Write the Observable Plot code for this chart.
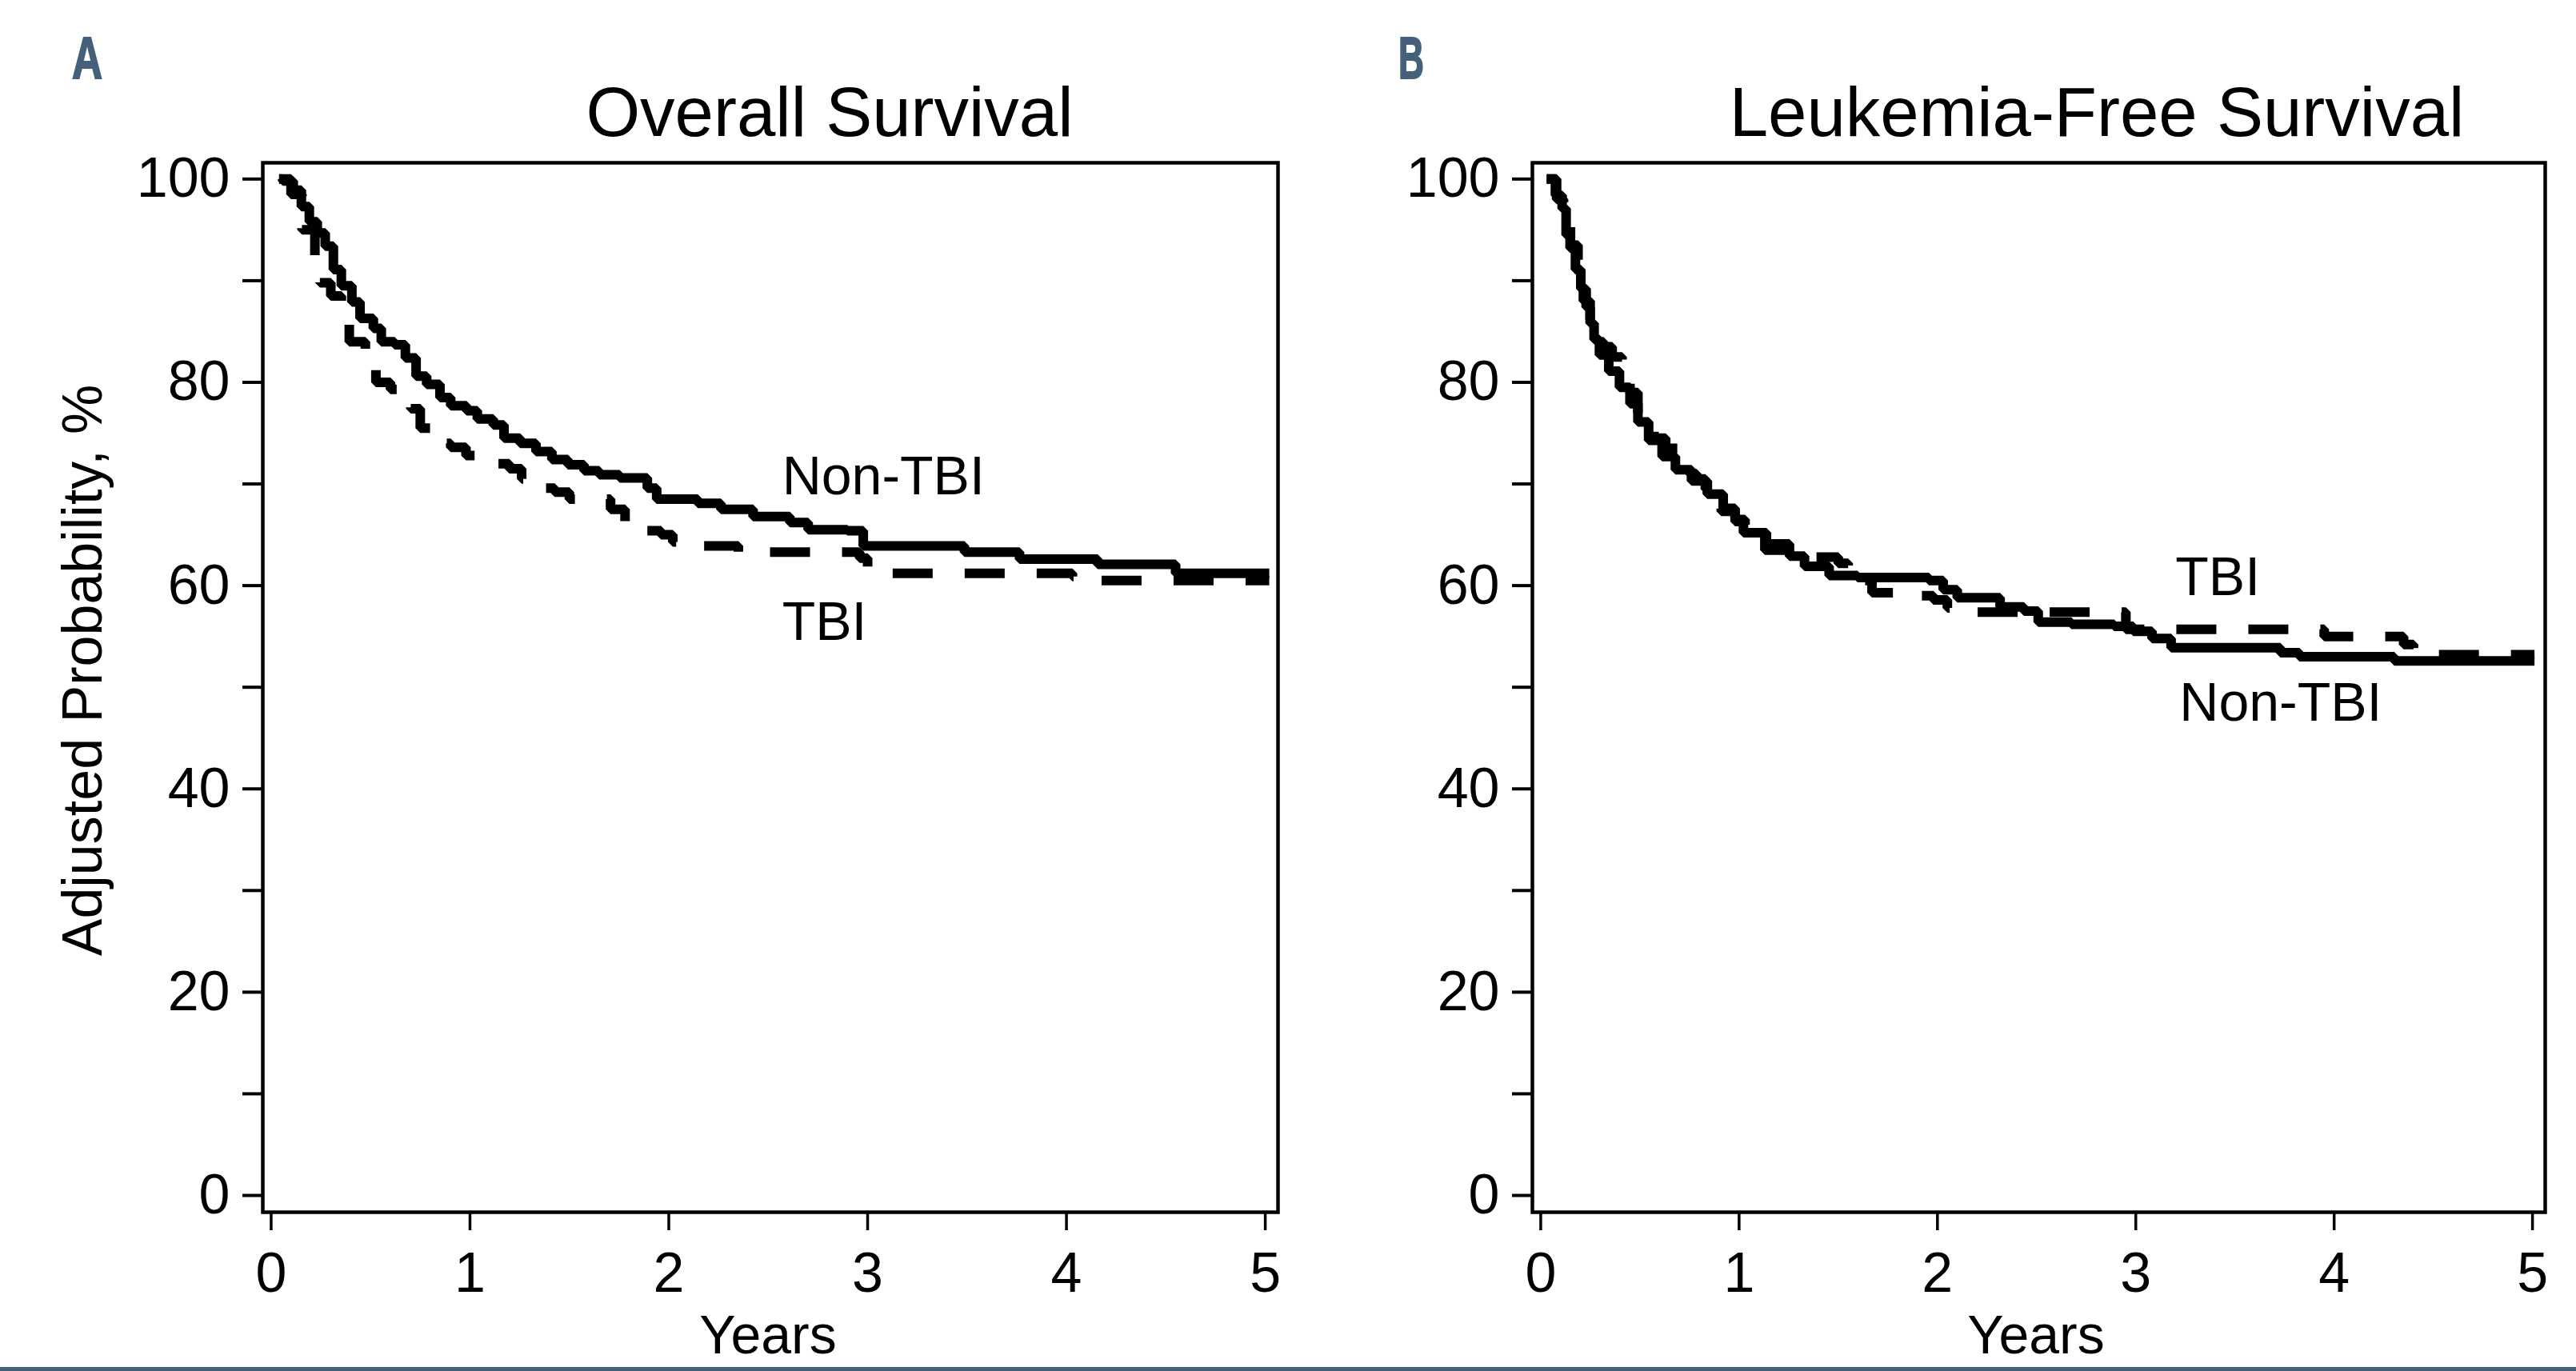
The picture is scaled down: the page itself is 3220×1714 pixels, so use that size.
<!DOCTYPE html>
<html>
<head>
<meta charset="utf-8">
<script src="https://cdn.jsdelivr.net/npm/d3@7"></script>
<script src="https://cdn.jsdelivr.net/npm/@observablehq/plot@0.6"></script>
<style>
  html, body { margin: 0; padding: 0; background: #fff; }
  #wrap { position: relative; width: 3220px; height: 1714px; overflow: hidden; background: #fff; }
  #wrap > svg { position: absolute; top: 0; }
  #overlay { position: absolute; left: 0; top: 0; pointer-events: none; }
</style>
</head>
<body>
<div id="wrap"></div>
<script>
// ---------- data ----------
const xTicks = [0, 1, 2, 3, 4, 5];
const yTicks = [0, 10, 20, 30, 40, 50, 60, 70, 80, 90, 100];
const groupNames = ["Non-TBI", "TBI"];
const panelTitles = ["Overall Survival", "Leukemia-Free Survival"];
const panelLetters = ["A", "B"];
const xTitle = "Years";
const yTitle = "Adjusted Probability, %";

// Panel A: overall survival
const osNonTbiYears = [0.04, 0.058, 0.111, 0.152, 0.192, 0.232, 0.272, 0.313, 0.353, 0.406, 0.447, 0.514, 0.554, 0.621, 0.675, 0.729, 0.782, 0.849, 0.903, 0.983, 1.037, 1.117, 1.171, 1.252, 1.332, 1.412, 1.493, 1.574, 1.65, 1.753, 1.892, 1.939, 2.146, 2.262, 2.424, 2.609, 2.701, 2.898, 2.978, 3.487, 3.764, 4.157, 4.549, 5.02];
const osNonTbiPct   = [100, 99.8, 98.9, 97.3, 95.8, 94.7, 93.4, 91.1, 89.5, 87.9, 86.3, 85.3, 84.0, 83.7, 82.4, 80.6, 79.8, 78.5, 77.7, 77.2, 76.4, 75.8, 74.5, 74.0, 73.2, 72.4, 71.9, 71.3, 70.9, 70.6, 69.6, 68.5, 68.1, 67.5, 66.8, 66.2, 65.5, 65.4, 63.9, 63.3, 62.6, 62.1, 61.2, 61.2];
const osTbiYears = [0.04, 0.10, 0.155, 0.22, 0.245, 0.30, 0.353, 0.393, 0.474, 0.527, 0.60, 0.675, 0.702, 0.75, 0.809, 0.903, 0.98, 1.05, 1.198, 1.26, 1.319, 1.426, 1.50, 1.707, 1.78, 1.846, 1.961, 2.02, 2.077, 2.35, 2.96, 3.0, 3.07, 4.03, 4.08, 5.02];
const osTbiPct   = [100, 98.5, 95.0, 91.7, 89.8, 88.5, 87.1, 84.0, 81.9, 80.0, 79.3, 78.7, 77.4, 75.5, 74.0, 73.6, 72.8, 72.0, 71.5, 70.5, 69.6, 69.2, 68.5, 67.5, 66.3, 65.4, 65.0, 64.3, 63.9, 63.3, 62.7, 61.8, 61.2, 60.9, 60.5, 60.5];

// Panel B: leukemia-free survival
const lfsNonTbiYears = [0.03, 0.074, 0.108, 0.128, 0.148, 0.175, 0.202, 0.229, 0.249, 0.269, 0.296, 0.343, 0.397, 0.450, 0.49, 0.544, 0.612, 0.679, 0.76, 0.84, 0.92, 0.98, 1.022, 1.138, 1.254, 1.33, 1.454, 1.597, 1.957, 2.029, 2.1, 2.316, 2.436, 2.508, 2.675, 2.891, 2.987, 3.082, 3.178, 3.729, 3.825, 4.303, 5.01];
const lfsNonTbiPct   = [100, 98.4, 97.1, 94.5, 93.2, 91.1, 89.2, 87.4, 85.8, 84.2, 82.7, 81.1, 79.5, 77.9, 76.1, 74.3, 72.7, 71.4, 70.3, 69.0, 67.6, 66.3, 65.2, 64.1, 62.9, 61.9, 61.0, 60.8, 60.5, 59.6, 58.8, 57.9, 57.5, 56.4, 56.2, 56.0, 55.5, 54.8, 53.9, 53.4, 53.0, 52.6, 52.6];
const lfsTbiYears = [0.03, 0.08, 0.115, 0.15, 0.188, 0.215, 0.249, 0.29, 0.316, 0.36, 0.41, 0.45, 0.49, 0.53, 0.571, 0.63, 0.692, 0.75, 0.786, 0.83, 0.867, 0.91, 0.98, 1.03, 1.13, 1.25, 1.50, 1.55, 1.60, 1.67, 1.84, 1.98, 2.05, 2.125, 2.95, 3.95, 4.35, 4.40, 5.01];
const lfsTbiPct   = [100, 98.0, 95.5, 93.5, 90.5, 88.0, 85.5, 84.0, 83.5, 82.5, 81.0, 79.0, 77.0, 75.5, 74.5, 73.5, 72.0, 71.0, 70.5, 69.5, 68.0, 67.3, 66.5, 65.0, 63.5, 62.8, 62.2, 61.7, 60.5, 59.3, 59.0, 58.6, 57.8, 57.4, 55.7, 55.0, 54.2, 53.2, 53.2];

// curve-label anchors (data units), one per group, per panel
const osLabelYears = [2.57, 2.57];
const osLabelPct   = [70.7, 56.4];
const lfsLabelYears = [3.22, 3.20];
const lfsLabelPct   = [48.45, 60.8];

// ---------- drawing ----------
const FONT = '"Liberation Sans", Arial, Helvetica, sans-serif';

function toRows(xs, ys) { return xs.map((x, i) => ({x, y: ys[i]})); }

function panel({nonX, nonY, tbiX, tbiY, labX, labY, marginLeft, marginRight}) {
  const labels = groupNames.map((g, i) => ({text: g, x: labX[i], y: labY[i]}));
  return Plot.plot({
    width: 1610,
    height: 1714,
    marginTop: 203,
    marginBottom: 199,
    marginLeft,
    marginRight,
    style: {fontFamily: FONT, background: "transparent", color: "#000", overflow: "visible"},
    x: {domain: [-0.042, 5.064]},
    y: {domain: [-1.65, 101.6]},
    marks: [
      Plot.axisX({ticks: xTicks, tickFormat: d => String(d), tickSize: 23, tickPadding: 27, fontSize: 70, strokeWidth: 3.5, label: null}),
      Plot.axisY({ticks: yTicks, tickFormat: d => d % 20 === 0 ? String(d) : "", tickSize: 25, tickPadding: 16, fontSize: 70, strokeWidth: 4, label: null}),
      Plot.line(toRows(nonX, nonY), {x: "x", y: "y", curve: "step-after", stroke: "#000", strokeWidth: 12, strokeLinejoin: "miter", strokeLinecap: "butt"}),
      Plot.line(toRows(tbiX, tbiY), {x: "x", y: "y", curve: "step-after", stroke: "#000", strokeWidth: 12, strokeLinejoin: "miter", strokeLinecap: "butt", strokeDasharray: "50,40"}),
      Plot.text(labels, {x: "x", y: "y", text: "text", textAnchor: "start", lineAnchor: "middle", fontSize: 68, fill: "#000"}),
      Plot.frame({stroke: "#000", strokeWidth: 4.5})
    ]
  });
}

const wrap = document.getElementById("wrap");

const plotA = panel({nonX: osNonTbiYears, nonY: osNonTbiPct, tbiX: osTbiYears, tbiY: osTbiPct,
                     labX: osLabelYears, labY: osLabelPct, marginLeft: 328, marginRight: 13});
plotA.style.left = "0px";
wrap.appendChild(plotA);

const plotB = panel({nonX: lfsNonTbiYears, nonY: lfsNonTbiPct, tbiX: lfsTbiYears, tbiY: lfsTbiPct,
                     labX: lfsLabelYears, labY: lfsLabelPct, marginLeft: 305, marginRight: 39});
plotB.style.left = "1610px";
wrap.appendChild(plotB);

// overlay with titles, panel letters, axis titles, bottom rule
const NS = "http://www.w3.org/2000/svg";
const ov = document.createElementNS(NS, "svg");
ov.setAttribute("id", "overlay");
ov.setAttribute("width", 3220);
ov.setAttribute("height", 1714);
ov.setAttribute("font-family", FONT);
wrap.appendChild(ov);

function addText(str, attrs) {
  const t = document.createElementNS(NS, "text");
  for (const k in attrs) t.setAttribute(k, attrs[k]);
  t.textContent = str;
  ov.appendChild(t);
  return t;
}
const slate = "#44607a";
addText(panelLetters[0], {x: 90, y: 98, "font-size": 74, "font-weight": "bold", fill: slate, stroke: slate, "stroke-width": 2, textLength: 38, lengthAdjust: "spacingAndGlyphs"});
addText(panelLetters[1], {x: 1748, y: 98, "font-size": 74, "font-weight": "bold", fill: slate, stroke: slate, "stroke-width": 2, textLength: 32, lengthAdjust: "spacingAndGlyphs"});
addText(panelTitles[0], {x: 1037, y: 170, "font-size": 87, "text-anchor": "middle", fill: "#000"});
addText(panelTitles[1], {x: 2621, y: 170, "font-size": 87, "text-anchor": "middle", fill: "#000"});
addText(yTitle, {x: 0, y: 0, transform: "translate(127,838) rotate(-90)", "font-size": 70, "text-anchor": "middle", fill: "#000"});
addText(xTitle, {x: 960, y: 1692, "font-size": 68, "text-anchor": "middle", fill: "#000"});
addText(xTitle, {x: 2545, y: 1692, "font-size": 68, "text-anchor": "middle", fill: "#000"});
const band = document.createElementNS(NS, "rect");
band.setAttribute("x", 0); band.setAttribute("y", 1709);
band.setAttribute("width", 3220); band.setAttribute("height", 5);
band.setAttribute("fill", slate);
ov.appendChild(band);
</script>
</body>
</html>
